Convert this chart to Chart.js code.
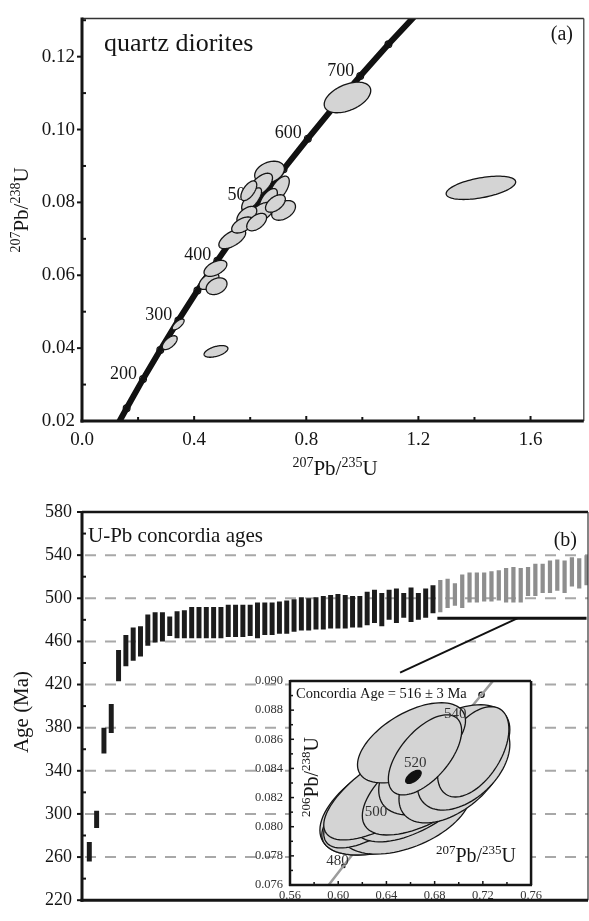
<!DOCTYPE html>
<html>
<head>
<meta charset="utf-8">
<script src="https://cdn.jsdelivr.net/npm/chart.js@4.4.1/dist/chart.umd.min.js"></script>
<style>
  html, body { margin: 0; padding: 0; background: #fff; }
  #page { position: relative; width: 589px; height: 921px; overflow: hidden; }
  canvas { position: absolute; }
</style>
</head>
<body>
<div id="page">
  <canvas id="concordia" width="589" height="480" style="left:0;top:0"></canvas>
  <canvas id="ages" width="589" height="441" style="left:0;top:480px"></canvas>
  <canvas id="inset" width="305" height="245" style="left:240px;top:665px"></canvas>
</div>
<script>
"use strict";

const FONT = "'Liberation Serif', 'Times New Roman', serif";
const INK = "#151515";

// (a) concordia curve (ages in Ma) and its 50 Ma markers
const curveAges = [120, 150, 200, 250, 300, 350, 400, 450, 500, 550, 600, 650, 700, 750, 800];
const curveX = [0.1255, 0.1592, 0.2177, 0.2792, 0.3437, 0.4116, 0.4828, 0.5577, 0.6363, 0.7189, 0.8056, 0.8968, 0.9925, 1.0931, 1.1987];
const curveY = [0.0188, 0.0235, 0.0315, 0.0395, 0.0476, 0.0558, 0.0640, 0.0723, 0.0807, 0.0891, 0.0975, 0.1061, 0.1147, 0.1234, 0.1321];
const markerAges = [150, 200, 250, 300, 350, 400, 450, 500, 550, 600, 650, 700, 750];
const labelAges = [200, 300, 400, 500, 600, 700];

// (a) analysis ellipses: centre, half widths, error correlation
const ellX = [0.947, 1.423, 0.478, 0.343, 0.313, 0.453, 0.476, 0.480, 0.536, 0.669, 0.637, 0.704, 0.605, 0.665, 0.719, 0.641, 0.588, 0.690, 0.573, 0.623, 0.595];
const ellY = [0.1088, 0.0840, 0.0391, 0.0465, 0.0415, 0.0584, 0.0619, 0.0570, 0.0700, 0.0883, 0.0848, 0.0837, 0.0808, 0.0808, 0.0778, 0.0773, 0.0765, 0.0797, 0.0738, 0.0746, 0.0832];
const ellSx = [0.083, 0.124, 0.0425, 0.0212, 0.0265, 0.0354, 0.0407, 0.0372, 0.0478, 0.053, 0.0425, 0.0354, 0.0354, 0.0319, 0.0425, 0.0425, 0.0354, 0.0354, 0.039, 0.0354, 0.0283];
const ellSy = [0.0042, 0.0032, 0.0016, 0.0015, 0.0019, 0.0023, 0.0022, 0.0023, 0.0027, 0.0030, 0.0032, 0.0035, 0.0032, 0.0030, 0.0027, 0.0027, 0.0024, 0.0024, 0.0022, 0.0024, 0.0027];
const ellRho = [0.45, 0.5, 0.5, 0.7, 0.6, 0.5, 0.5, 0.3, 0.6, 0.3, 0.6, 0.6, 0.7, 0.6, 0.4, 0.5, 0.5, 0.5, 0.5, 0.5, 0.6];

// (b) concordia age ranges (Ma), sorted; black = rejected/older group, grey = selected
const blackLow = [256, 287, 356, 375, 423, 437, 442, 446, 456, 459, 460, 465, 463, 463, 463, 463, 463, 463, 463, 464, 464, 464, 465, 463, 466, 466, 467, 467, 469, 470, 470, 471, 471, 472, 472, 472, 473, 473, 475, 477, 474, 480, 477, 482, 478, 480, 482, 486];
const blackHigh = [274, 303, 380, 402, 452, 466, 473, 474, 485, 487, 487, 483, 488, 489, 492, 492, 492, 492, 492, 494, 494, 494, 494, 496, 496, 496, 497, 498, 499, 501, 500, 501, 502, 503, 504, 503, 502, 502, 506, 508, 505, 508, 509, 505, 510, 505, 509, 512];
const grayLow = [487, 491, 493, 491, 496, 496, 497, 497, 498, 496, 496, 496, 502, 502, 505, 505, 507, 505, 511, 509, 512];
const grayHigh = [517, 518, 514, 522, 524, 524, 524, 525, 526, 528, 529, 528, 529, 532, 532, 535, 536, 535, 538, 537, 540];
const gridAges = [260, 300, 340, 380, 420, 460, 500, 540];
const selectionX = [48.6, 69.0];
const selectionAge = 481.5;
const connectorX = [59.6, 43.5];
const connectorAge = [481.5, 431];

// (b) inset concordia
const insetAges = [470, 480, 500, 520, 540, 550, 560];
const insetX = [0.5886, 0.6043, 0.6363, 0.6688, 0.7021, 0.7189, 0.7359];
const insetY = [0.07563, 0.07730, 0.08065, 0.08401, 0.08738, 0.08906, 0.09075];
const insetLabelAges = [480, 500, 520, 540];
const insetEllX = [0.652, 0.6464, 0.656, 0.636, 0.668, 0.644, 0.68, 0.688, 0.6944, 0.704, 0.712, 0.6608, 0.672];
const insetEllY = [0.08184, 0.08081, 0.08101, 0.08184, 0.08253, 0.08253, 0.08321, 0.08459, 0.08356, 0.08424, 0.08514, 0.08576, 0.08493];
const insetEllSx = [0.0672, 0.06, 0.0544, 0.048, 0.056, 0.056, 0.06, 0.0544, 0.044, 0.0384, 0.0296, 0.0448, 0.0304];
const insetEllSy = [0.00378, 0.00275, 0.00289, 0.0033, 0.00357, 0.00344, 0.00378, 0.00378, 0.0033, 0.0031, 0.0031, 0.00275, 0.00275];
const insetEllRho = [0.55, 0.5, 0.45, 0.7, 0.6, 0.7, 0.65, 0.55, 0.5, 0.45, 0.5, 0.55, 0.6];
const meanAge = { x: 0.6624, y: 0.08342, sx: 0.0064, sy: 0.00045, rho: 0.6 };

const pts = (xs, ys) => xs.map((x, i) => ({ x, y: ys[i] }));
const pick = (ages, xs, ys, wanted) => wanted.map((a) => ({ x: xs[ages.indexOf(a)], y: ys[ages.indexOf(a)] }));

const line = (ctx, x1, y1, x2, y2, w, color) => {
  ctx.beginPath();
  ctx.lineWidth = w;
  ctx.strokeStyle = color || INK;
  ctx.moveTo(x1, y1);
  ctx.lineTo(x2, y2);
  ctx.stroke();
};

// text with superscript isotope masses, e.g. 207Pb/235U
const isotopeText = (ctx, parts, cx, cy, size, rotate) => {
  const big = `${size}px ${FONT}`;
  const small = `${Math.round(size * 0.66)}px ${FONT}`;
  ctx.save();
  ctx.translate(cx, cy);
  if (rotate) ctx.rotate(-Math.PI / 2);
  let w = 0;
  parts.forEach(([t, sup]) => { ctx.font = sup ? small : big; w += ctx.measureText(t).width; });
  let x = -w / 2;
  ctx.fillStyle = INK;
  ctx.textAlign = "left";
  ctx.textBaseline = "alphabetic";
  parts.forEach(([t, sup]) => {
    ctx.font = sup ? small : big;
    ctx.fillText(t, x, sup ? size * 0.35 - size * 0.4 : size * 0.35);
    x += ctx.measureText(t).width;
  });
  ctx.restore();
};

const drawEllipses = (chart, xs, ys, sxs, sys, rhos, fill, stroke) => {
  const { ctx, chartArea: a, scales: { x, y } } = chart;
  ctx.save();
  ctx.beginPath();
  ctx.rect(a.left, a.top, a.right - a.left, a.bottom - a.top);
  ctx.clip();
  xs.forEach((cx, i) => {
    const r = rhos[i];
    const q = Math.sqrt(1 - r * r);
    ctx.beginPath();
    for (let k = 0; k <= 90; k += 1) {
      const t = (k / 90) * Math.PI * 2;
      const px = x.getPixelForValue(cx + sxs[i] * Math.cos(t));
      const py = y.getPixelForValue(ys[i] + sys[i] * (r * Math.cos(t) + q * Math.sin(t)));
      if (k === 0) ctx.moveTo(px, py);
      else ctx.lineTo(px, py);
    }
    ctx.closePath();
    ctx.fillStyle = fill;
    ctx.fill();
    ctx.lineWidth = 1.3;
    ctx.strokeStyle = stroke;
    ctx.stroke();
  });
  ctx.restore();
};

// inward/outward tick marks drawn along a scale
const tickMarks = (ctx, scale, from, to, step, isMajor, draw) => {
  for (let v = from; v <= to + step / 1000; v += step) {
    draw(scale.getPixelForValue(v), isMajor(v));
  }
};

const noise = { legend: { display: false }, tooltip: { enabled: false } };

// ---------- (a) concordia diagram ----------
const concordiaPlugin = {
  id: "concordiaDecor",
  afterDatasetsDraw(chart) {
    const { ctx, chartArea: a, scales: { x, y } } = chart;
    // age labels, under the ellipses
    ctx.save();
    ctx.font = `18px ${FONT}`;
    ctx.fillStyle = INK;
    ctx.textAlign = "right";
    ctx.textBaseline = "middle";
    pick(curveAges, curveX, curveY, labelAges).forEach((p, i) => {
      ctx.fillText(String(labelAges[i]), x.getPixelForValue(p.x) - 6, y.getPixelForValue(p.y) - 5);
    });
    ctx.restore();
    drawEllipses(chart, ellX, ellY, ellSx, ellSy, ellRho, "#d4d4d4", INK);
    ctx.save();
    line(ctx, a.left, a.top, a.right, a.top, 1.5, "#333");
    line(ctx, a.right, a.top, a.right, a.bottom, 1.2, "#333");
    line(ctx, a.left, a.top - 1, a.left, a.bottom + 1.5, 3);
    line(ctx, a.left - 1.5, a.bottom, a.right, a.bottom, 3);
    tickMarks(ctx, y, 0.03, 0.13, 0.01, (v) => Math.round(v * 100) % 2 === 0, (py, major) => {
      if (major) line(ctx, a.left - 5, py, a.left, py, 2);
      else line(ctx, a.left, py, a.left + 4, py, 2);
    });
    tickMarks(ctx, x, 0.2, 1.6, 0.2, (v) => Math.round(v * 10) % 4 === 0, (px, major) => {
      line(ctx, px, a.bottom, px, a.bottom - (major ? 5 : 4), 2);
    });
    ctx.font = `26px ${FONT}`;
    ctx.fillStyle = INK;
    ctx.textAlign = "left";
    ctx.textBaseline = "alphabetic";
    ctx.fillText("quartz diorites", 104, 51);
    ctx.font = `20px ${FONT}`;
    ctx.textAlign = "right";
    ctx.fillText("(a)", 573, 40);
    isotopeText(ctx, [["207", 1], ["Pb/", 0], ["238", 1], ["U", 0]], 21, 210, 21, true);
    isotopeText(ctx, [["207", 1], ["Pb/", 0], ["235", 1], ["U", 0]], 335, 468, 21, false);
    ctx.restore();
  }
};

new Chart(document.getElementById("concordia"), {
  type: "scatter",
  data: {
    datasets: [
      { data: pts(curveX, curveY), showLine: true, borderColor: "#111", borderWidth: 6, pointRadius: 0 },
      { data: pts(curveX, curveY), showLine: true, borderColor: "#b4b4b4", borderWidth: 1.8, borderDash: [6, 7], pointRadius: 0 },
      { data: pick(curveAges, curveX, curveY, markerAges), pointRadius: 3.4, pointBackgroundColor: "#fff", pointBorderColor: "#111", pointBorderWidth: 1.2 }
    ]
  },
  options: {
    responsive: false,
    animation: false,
    events: [],
    layout: { padding: { top: 10, right: 1, left: 0, bottom: 0 } },
    plugins: noise,
    scales: {
      x: {
        type: "linear", min: 0, max: 1.79,
        grid: { display: false, drawTicks: false }, border: { display: false },
        ticks: { stepSize: 0.2, includeBounds: false, padding: 8, autoSkip: false, maxRotation: 0, color: INK, font: { family: FONT, size: 19 },
          callback: (v) => (Math.round(v * 10) % 4 === 0 ? v.toFixed(1) : "") },
        afterFit: (s) => { s.height = 59; }
      },
      y: {
        type: "linear", min: 0.02, max: 0.1305,
        grid: { display: false, drawTicks: false }, border: { display: false },
        ticks: { stepSize: 0.01, includeBounds: false, padding: 7, autoSkip: false, color: INK, font: { family: FONT, size: 19 },
          callback: (v) => (Math.round(v * 1000) % 20 === 0 && v < 0.1302 ? v.toFixed(2) : "") },
        afterFit: (s) => { s.width = 82; }
      }
    }
  },
  plugins: [concordiaPlugin]
});

// ---------- (b) age ranges ----------
const agesPlugin = {
  id: "agesDecor",
  beforeDatasetsDraw(chart) {
    const { ctx, chartArea: a, scales: { y } } = chart;
    ctx.save();
    ctx.setLineDash([11, 9]);
    gridAges.forEach((v) => line(ctx, a.left + 3, y.getPixelForValue(v), a.right, y.getPixelForValue(v), 2, "#a8a8a8"));
    ctx.restore();
  },
  afterDatasetsDraw(chart) {
    const { ctx, chartArea: a, scales: { y } } = chart;
    ctx.save();
    line(ctx, a.left, a.top, a.right, a.top, 2.5);
    line(ctx, a.right, a.top, a.right, a.bottom, 1.2, "#333");
    line(ctx, a.left, a.top - 1, a.left, a.bottom + 1.5, 3);
    line(ctx, a.left - 1.5, a.bottom, a.right, a.bottom, 3);
    tickMarks(ctx, y, 220, 580, 20, (v) => (v - 220) % 40 === 0, (py, major) => {
      if (major) line(ctx, a.left - 5, py, a.left, py, 2);
      else line(ctx, a.left, py, a.left + 4, py, 2);
    });
    ctx.fillStyle = INK;
    ctx.font = `21px ${FONT}`;
    ctx.textAlign = "left";
    ctx.textBaseline = "alphabetic";
    ctx.fillText("U-Pb concordia ages", 88, 62);
    ctx.font = `20px ${FONT}`;
    ctx.textAlign = "right";
    ctx.fillText("(b)", 577, 66);
    ctx.translate(22, 232);
    ctx.rotate(-Math.PI / 2);
    ctx.textAlign = "center";
    ctx.textBaseline = "middle";
    ctx.font = `21px ${FONT}`;
    ctx.fillText("Age (Ma)", 0, 0);
    ctx.restore();
  }
};

new Chart(document.getElementById("ages"), {
  type: "bar",
  data: {
    datasets: [
      { type: "line", data: pts(selectionX, selectionX.map(() => selectionAge)), borderColor: "#111", borderWidth: 3, pointRadius: 0 },
      { type: "line", data: pts(connectorX, connectorAge), borderColor: "#111", borderWidth: 2, pointRadius: 0 },
      { data: blackLow.map((lo, i) => ({ x: i + 1, y: [lo, blackHigh[i]] })), backgroundColor: "#1c1c1c", grouped: false, barPercentage: 0.68, categoryPercentage: 1 },
      { data: grayLow.map((lo, i) => ({ x: blackLow.length + i + 1, y: [lo, grayHigh[i]] })), backgroundColor: "#8e8e8e", grouped: false, barPercentage: 0.58, categoryPercentage: 1 }
    ]
  },
  options: {
    responsive: false,
    animation: false,
    events: [],
    layout: { padding: { top: 32, right: 1, left: 0, bottom: 3 } },
    plugins: noise,
    scales: {
      x: { type: "linear", min: 0, max: 69.2, offset: false, display: false },
      y: {
        type: "linear", min: 220, max: 580,
        grid: { display: false, drawTicks: false }, border: { display: false },
        ticks: { stepSize: 20, padding: 10, autoSkip: false, color: INK, font: { family: FONT, size: 18 },
          callback: (v) => ((v - 220) % 40 === 0 ? String(v) : "") },
        afterFit: (s) => { s.width = 82; }
      }
    }
  },
  plugins: [agesPlugin]
});

// ---------- (b) inset concordia ----------
const insetPlugin = {
  id: "insetDecor",
  beforeDatasetsDraw(chart) {
    const { ctx, chartArea: a } = chart;
    ctx.save();
    ctx.fillStyle = "#fff";
    ctx.fillRect(a.left, a.top, a.right - a.left, a.bottom - a.top);
    ctx.restore();
  },
  afterDatasetsDraw(chart) {
    const { ctx, chartArea: a, scales: { x, y } } = chart;
    drawEllipses(chart, insetEllX, insetEllY, insetEllSx, insetEllSy, insetEllRho, "#d4d4d4", INK);
    drawEllipses(chart, [meanAge.x], [meanAge.y], [meanAge.sx], [meanAge.sy], [meanAge.rho], "#111", "#111");
    ctx.save();
    ctx.font = `15px ${FONT}`;
    ctx.fillStyle = "#333";
    ctx.textAlign = "center";
    ctx.textBaseline = "middle";
    pick(insetAges, insetX, insetY, insetLabelAges).forEach((p, i) => {
      ctx.fillText(String(insetLabelAges[i]), x.getPixelForValue(p.x) - 6, y.getPixelForValue(p.y) - 5);
    });
    line(ctx, a.left, a.top, a.right, a.top, 2.5);
    line(ctx, a.right, a.top, a.right, a.bottom, 2.5);
    line(ctx, a.left, a.top - 1, a.left, a.bottom + 1, 2.5);
    line(ctx, a.left - 1, a.bottom, a.right + 1, a.bottom, 2.5);
    tickMarks(ctx, y, 0.077, 0.089, 0.001, (v) => Math.round(v * 1000) % 2 === 0, (py, major) => {
      line(ctx, a.left, py, a.left + (major ? 4 : 3), py, 1.5);
    });
    tickMarks(ctx, x, 0.58, 0.74, 0.02, (v) => Math.round(v * 100) % 4 === 0, (px, major) => {
      line(ctx, px, a.bottom, px, a.bottom - (major ? 4 : 3), 1.5);
    });
    ctx.fillStyle = INK;
    ctx.font = `14.5px ${FONT}`;
    ctx.textAlign = "left";
    ctx.textBaseline = "alphabetic";
    ctx.fillText("Concordia Age = 516 \u00b1 3 Ma", 56, 33);
    isotopeText(ctx, [["206", 1], ["Pb/", 0], ["238", 1], ["U", 0]], 71, 112, 20, true);
    isotopeText(ctx, [["207", 1], ["Pb/", 0], ["235", 1], ["U", 0]], 236, 190, 20, false);
    ctx.restore();
  }
};

new Chart(document.getElementById("inset"), {
  type: "scatter",
  data: {
    datasets: [
      { data: pts(insetX, insetY), showLine: true, borderColor: "#9c9c9c", borderWidth: 2.5, pointRadius: 0 },
      { data: pick(insetAges, insetX, insetY, [550]), pointRadius: 2.6, pointBackgroundColor: "#fff", pointBorderColor: "#111", pointBorderWidth: 1.3 },
      { data: pick(insetAges, insetX, insetY, [480]), pointStyle: "rect", pointRadius: 2.2, pointBackgroundColor: "#111", pointBorderColor: "#111" }
    ]
  },
  options: {
    responsive: false,
    animation: false,
    events: [],
    layout: { padding: { top: 16, right: 5, left: 0, bottom: 0 } },
    plugins: noise,
    scales: {
      x: {
        type: "linear", min: 0.56, max: 0.76,
        grid: { display: false, drawTicks: false }, border: { display: false },
        ticks: { stepSize: 0.02, padding: 3, autoSkip: false, maxRotation: 0, minRotation: 0, color: "#333", font: { family: FONT, size: 12.5 },
          callback: (v) => (Math.round(v * 100) % 4 === 0 ? v.toFixed(2) : "") },
        afterFit: (s) => { s.height = 25; }
      },
      y: {
        type: "linear", min: 0.076, max: 0.090,
        grid: { display: false, drawTicks: false }, border: { display: false },
        ticks: { stepSize: 0.001, padding: 7, autoSkip: false, color: "#333", font: { family: FONT, size: 12.5 },
          callback: (v) => (Math.round(v * 1000) % 2 === 0 ? v.toFixed(3) : "") },
        afterFit: (s) => { s.width = 50; }
      }
    }
  },
  plugins: [insetPlugin]
});
</script>
</body>
</html>
